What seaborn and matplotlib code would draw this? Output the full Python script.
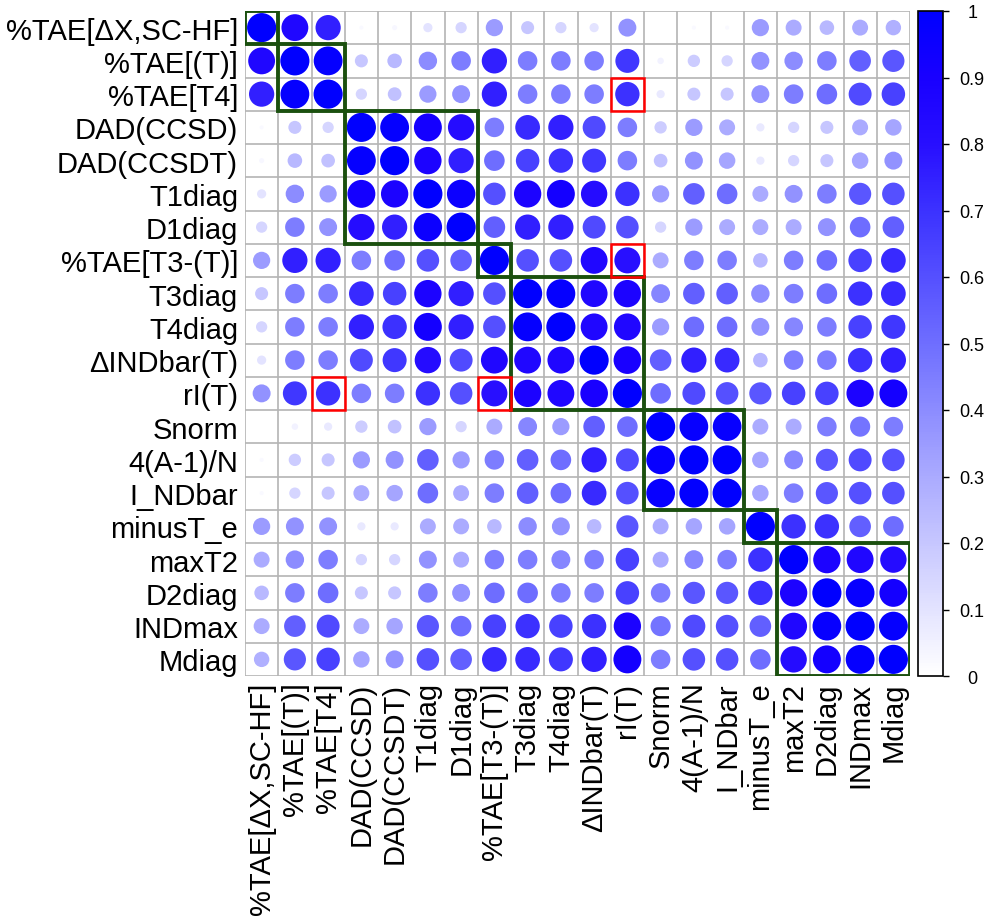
import numpy as np
import pandas as pd
import seaborn as sns
import matplotlib
matplotlib.use("Agg")
import matplotlib.pyplot as plt
from matplotlib.colors import LinearSegmentedColormap, Normalize
from matplotlib.patches import Rectangle
from matplotlib.cm import ScalarMappable

# --- Data ---
LABELS = ["%TAE[ΔX,SC-HF]", "%TAE[(T)]", "%TAE[T4]", "DAD(CCSD)", "DAD(CCSDT)",
          "T1diag", "D1diag", "%TAE[T3-(T)]", "T3diag", "T4diag", "ΔINDbar(T)",
          "rI(T)", "Snorm", "4(A-1)/N", "I_NDbar", "minusT_e", "maxT2",
          "D2diag", "INDmax", "Mdiag"]

# lower triangle of the (symmetric) correlation matrix, row by row
LOWER = [
    [1.0],
    [0.85, 1.0],
    [0.75, 0.98, 1.0],
    [0.02, 0.20, 0.15, 1.0],
    [0.03, 0.25, 0.22, 0.98, 1.0],
    [0.10, 0.40, 0.35, 0.92, 0.88, 1.0],
    [0.15, 0.45, 0.38, 0.82, 0.75, 0.95, 1.0],
    [0.35, 0.75, 0.75, 0.45, 0.50, 0.60, 0.55, 1.0],
    [0.20, 0.45, 0.45, 0.72, 0.65, 0.88, 0.75, 0.60, 1.0],
    [0.15, 0.45, 0.45, 0.75, 0.70, 0.92, 0.75, 0.60, 0.98, 1.0],
    [0.10, 0.45, 0.45, 0.62, 0.68, 0.82, 0.62, 0.85, 0.85, 0.85, 1.0],
    [0.38, 0.68, 0.70, 0.45, 0.45, 0.70, 0.60, 0.80, 0.88, 0.85, 0.90, 1.0],
    [0.00, 0.05, 0.08, 0.18, 0.22, 0.35, 0.15, 0.30, 0.42, 0.35, 0.55, 0.50, 1.0],
    [0.02, 0.18, 0.20, 0.35, 0.38, 0.55, 0.35, 0.45, 0.55, 0.50, 0.75, 0.62, 0.97, 1.0],
    [0.02, 0.15, 0.20, 0.30, 0.32, 0.50, 0.30, 0.45, 0.55, 0.50, 0.72, 0.60, 0.97, 0.99, 1.0],
    [0.35, 0.38, 0.38, 0.08, 0.08, 0.30, 0.30, 0.25, 0.40, 0.38, 0.25, 0.58, 0.30, 0.32, 0.32, 1.0],
    [0.30, 0.40, 0.45, 0.15, 0.15, 0.38, 0.30, 0.45, 0.45, 0.42, 0.45, 0.65, 0.30, 0.42, 0.45, 0.70, 1.0],
    [0.25, 0.45, 0.50, 0.20, 0.20, 0.45, 0.38, 0.50, 0.50, 0.45, 0.45, 0.65, 0.45, 0.58, 0.58, 0.70, 0.88, 1.0],
    [0.30, 0.55, 0.62, 0.30, 0.32, 0.58, 0.50, 0.65, 0.70, 0.65, 0.70, 0.88, 0.48, 0.62, 0.60, 0.55, 0.85, 0.97, 1.0],
    [0.28, 0.58, 0.65, 0.32, 0.38, 0.60, 0.55, 0.72, 0.72, 0.68, 0.75, 0.92, 0.45, 0.60, 0.60, 0.50, 0.82, 0.92, 0.98, 1.0],
]

CLUSTERS = [(0, 0), (1, 2), (3, 6), (7, 7), (8, 11), (12, 14), (15, 15), (16, 19)]
HIGHLIGHT = [(2, 11), (7, 11), (11, 2), (11, 7)]   # (row, col)
CBAR_TICKS = [0, 0.1, 0.2, 0.3, 0.4, 0.5, 0.6, 0.7, 0.8, 0.9, 1]

# --- Build matrix ---
n = len(LABELS)
mat = np.zeros((n, n))
for i, row in enumerate(LOWER):
    for j, v in enumerate(row):
        mat[i, j] = v
        mat[j, i] = v

df = pd.DataFrame([(i, j, mat[i, j]) for i in range(n) for j in range(n)],
                  columns=["row", "col", "value"])

cmap = LinearSegmentedColormap.from_list("wb", [
    (0.0, "#ffffff"), (0.3, "#aaaaff"), (0.5, "#6e6eff"),
    (0.7, "#3c32ff"), (0.8, "#280fff"), (0.9, "#1900ff"), (1.0, "#0000ff")])

# --- Plot ---
sns.set_style("white")
plt.rcParams["font.family"] = ["Liberation Sans", "DejaVu Sans"]
plt.rcParams["text.color"] = "black"
plt.rcParams["xtick.color"] = "black"
plt.rcParams["ytick.color"] = "black"

fig = plt.figure(figsize=(9.97, 9.2), dpi=100)
ax = fig.add_axes([245 / 997, 1 - 677 / 920, 665 / 997, 665 / 920])

for k in range(n + 1):
    ax.axhline(k - 0.5, color="#b4b4b4", lw=1.2, zorder=1)
    ax.axvline(k - 0.5, color="#b4b4b4", lw=1.2, zorder=1)

sns.scatterplot(data=df, x="col", y="row", hue="value", size="value",
                hue_norm=(0, 1), size_norm=(0, 1), sizes=(0, 440),
                palette=cmap, linewidth=0, legend=False, ax=ax, zorder=3)

for a, b in CLUSTERS:
    ax.add_patch(Rectangle((a - 0.5, a - 0.5), b - a + 1, b - a + 1, fill=False,
                           edgecolor="#1b500f", lw=2.8, zorder=5))
for r, c in HIGHLIGHT:
    ax.add_patch(Rectangle((c - 0.5, r - 0.5), 1, 1, fill=False,
                           edgecolor="#ff0000", lw=1.8, zorder=6))

ax.set_xlim(-0.5, n - 0.5)
ax.set_ylim(n - 0.5, -0.5)
ax.set_xticks(range(n))
ax.set_yticks(range(n))
ax.set_xticklabels(LABELS, rotation=90, fontsize=21)
ax.set_yticklabels(LABELS, fontsize=21)
ax.tick_params(axis="y", length=0, pad=5)
ax.tick_params(axis="x", length=0, pad=4)
ax.set_xlabel("")
ax.set_ylabel("")
for s in ax.spines.values():
    s.set_visible(False)

# --- Colorbar ---
cax = fig.add_axes([918 / 997, 1 - 677 / 920, 25 / 997, 665 / 920])
sm = ScalarMappable(norm=Normalize(0, 1), cmap=cmap)
cb = fig.colorbar(sm, cax=cax, ticks=CBAR_TICKS)
cb.ax.set_yticklabels(["0", "0.1", "0.2", "0.3", "0.4", "0.5", "0.6", "0.7", "0.8", "0.9", "1"])
cb.ax.tick_params(labelsize=13, length=4, width=1, pad=17)
for t in cb.ax.get_yticklabels():
    t.set_horizontalalignment("center")
cb.outline.set_linewidth(1.2)
cb.outline.set_edgecolor("black")

fig.savefig("out.png", dpi=100)
